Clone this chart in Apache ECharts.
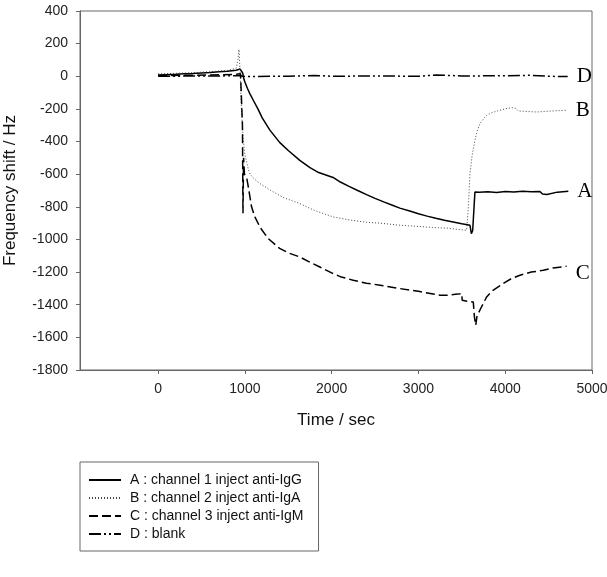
<!DOCTYPE html>
<html>
  <head>
    <meta charset="utf-8">
    <title>Frequency shift</title>
    <script src="https://cdn.jsdelivr.net/npm/echarts@6/dist/echarts.min.js"></script>
    <style>
      html, body { margin: 0; padding: 0; background: #fff; }
      #chart1 { width: 607px; height: 577px; }
    </style>
  </head>
  <body>
    <div id="chart1"></div>
  </body>
  <script>
    // readings from the picture: [time (sec), frequency shift (Hz)]
    var seriesA = [
      [0, 8], [100, 10], [200, 12], [300, 15], [400, 17], [500, 20], [600, 23], [700, 27],
      [800, 31], [900, 37], [945, 44], [962, 47], [975, 20], [985, -10], [1000, -35],
      [1030, -75], [1057, -106], [1100, -150], [1150, -200], [1200, -255], [1288, -330],
      [1400, -405], [1500, -455], [1633, -515], [1750, -560], [1850, -590], [2016, -620],
      [2100, -648], [2200, -675], [2300, -700], [2402, -725], [2500, -748], [2600, -770],
      [2700, -790], [2786, -808], [2900, -826], [3000, -842], [3100, -857], [3200, -870],
      [3300, -882], [3400, -893], [3500, -904], [3594, -913], [3610, -965], [3625, -945],
      [3640, -935], [3651, -709], [3700, -711], [3800, -707], [3900, -712], [4000, -706],
      [4100, -709], [4200, -704], [4300, -708], [4400, -706], [4430, -722], [4480, -724],
      [4500, -712], [4600, -710], [4727, -705]
    ];
    var seriesB = [
      [0, 15], [200, 18], [400, 22], [600, 28], [800, 36], [900, 50], [920, 100], [932, 165],
      [945, 20], [960, -200], [980, -380], [1000, -480], [1040, -570], [1060, -600],
      [1100, -625], [1172, -657], [1300, -700], [1450, -745], [1633, -780], [1800, -822],
      [2018, -862], [2200, -880], [2400, -895], [2557, -900], [2786, -913], [3000, -920],
      [3200, -928], [3325, -930], [3450, -938], [3555, -944], [3575, -800], [3594, -596],
      [3620, -480], [3651, -392], [3680, -330], [3709, -290], [3750, -260], [3786, -239],
      [3850, -222], [3940, -208], [4000, -200], [4074, -192], [4120, -196], [4150, -212],
      [4170, -213], [4250, -216], [4362, -219], [4500, -214], [4600, -211], [4708, -208]
    ];
    var seriesC = [
      [0, 5], [300, 6], [600, 8], [900, 12], [950, 15], [965, 10], [972, -300], [978, -840],
      [985, -500], [995, -600], [1020, -620], [1040, -680], [1077, -800], [1115, -862],
      [1180, -930], [1268, -994], [1400, -1055], [1500, -1082], [1633, -1107], [1750, -1140],
      [1864, -1169], [2000, -1205], [2100, -1228], [2248, -1250], [2400, -1268], [2557, -1280],
      [2786, -1301], [3000, -1318], [3248, -1342], [3325, -1342], [3450, -1335], [3498, -1331],
      [3505, -1373], [3560, -1378], [3632, -1383], [3645, -1475], [3660, -1526], [3675, -1470],
      [3690, -1475], [3720, -1420], [3786, -1352], [3850, -1315], [3978, -1270], [4070, -1240],
      [4170, -1219], [4300, -1200], [4439, -1189], [4550, -1175], [4708, -1164]
    ];
    var seriesD = [
      [0, 0], [300, 1], [600, 2], [950, 3], [1000, -2], [1300, 0], [1500, 0], [1800, 5],
      [2000, 0], [2500, 2], [3000, 0], [3200, 8], [3500, 2], [4000, 3], [4300, 6],
      [4500, 0], [4720, -2]
    ];
    var seriesNames = ['A : channel 1 inject anti-IgG', 'B : channel 2 inject anti-IgA',
                       'C : channel 3 inject anti-IgM', 'D : blank'];
    var endLetters = ['A', 'B', 'C', 'D'];
    var xTicks = [0, 1000, 2000, 3000, 4000, 5000];

    var myChart = echarts.init(document.getElementById('chart1'));

    function endLabel(letter, offset) {
      return {
        show: true,
        formatter: letter,
        color: '#000',
        fontFamily: 'Liberation Serif',
        fontSize: 21,
        distance: 9,
        offset: offset || [0, 0]
      };
    }

    // plain numbers, no thousands separator
    function plain(v) { return String(v); }

    var option = {
      animation: false,
      backgroundColor: '#fff',
      grid: {
        left: 80,
        right: 15,
        top: 11,
        bottom: 207,
        outerBoundsMode: 'none',
        show: true,
        borderColor: '#666',
        borderWidth: 1
      },
      legend: {
        orient: 'vertical',
        left: 80,
        top: 462,
        padding: [11, 15, 10, 8],
        itemWidth: 32,
        itemHeight: 14,
        itemGap: 4,
        borderColor: '#666',
        borderWidth: 1,
        itemStyle: { opacity: 0 },
        textStyle: { fontFamily: 'Liberation Sans', fontSize: 14, color: '#111', padding: [0, 0, 0, 4] },
        data: seriesNames
      },
      xAxis: {
        type: 'value',
        min: -900,
        max: 5000,
        name: 'Time / sec',
        nameLocation: 'middle',
        nameGap: 42,
        nameTextStyle: { fontFamily: 'Liberation Sans', fontSize: 17, color: '#111' },
        axisLine: { show: true, onZero: false, lineStyle: { color: '#666' } },
        axisTick: { show: true, length: 4, customValues: xTicks, lineStyle: { color: '#666' } },
        axisLabel: { customValues: xTicks, formatter: plain, margin: 12, fontFamily: 'Liberation Sans', fontSize: 14, color: '#222' },
        splitLine: { show: false }
      },
      yAxis: {
        type: 'value',
        min: -1800,
        max: 400,
        interval: 200,
        name: 'Frequency shift / Hz',
        nameLocation: 'middle',
        nameGap: 61,
        nameTextStyle: { fontFamily: 'Liberation Sans', fontSize: 17, color: '#111' },
        axisLine: { show: true, onZero: false, lineStyle: { color: '#666' } },
        axisTick: { show: true, length: 4, lineStyle: { color: '#666' } },
        axisLabel: { formatter: plain, margin: 12, fontFamily: 'Liberation Sans', fontSize: 14, color: '#222' },
        splitLine: { show: false }
      },
      series: [
        {
          name: seriesNames[0], type: 'line', data: seriesA, symbol: 'none',
          lineStyle: { color: '#000', width: 1.5, type: 'solid' },
          itemStyle: { color: '#000' },
          endLabel: endLabel(endLetters[0])
        },
        {
          name: seriesNames[1], type: 'line', data: seriesB, symbol: 'none',
          lineStyle: { color: '#444', width: 1, type: [1, 2] },
          itemStyle: { color: '#444' },
          endLabel: endLabel(endLetters[1])
        },
        {
          name: seriesNames[2], type: 'line', data: seriesC, symbol: 'none',
          lineStyle: { color: '#000', width: 1.5, type: [9, 4] },
          itemStyle: { color: '#000' },
          endLabel: endLabel(endLetters[2], [0, 7])
        },
        {
          name: seriesNames[3], type: 'line', data: seriesD, symbol: 'none',
          lineStyle: { color: '#000', width: 1.5, type: [12, 3, 2, 3, 2, 3] },
          itemStyle: { color: '#000' },
          endLabel: endLabel(endLetters[3])
        }
      ]
    };

    myChart.setOption(option);
  </script>
</html>
